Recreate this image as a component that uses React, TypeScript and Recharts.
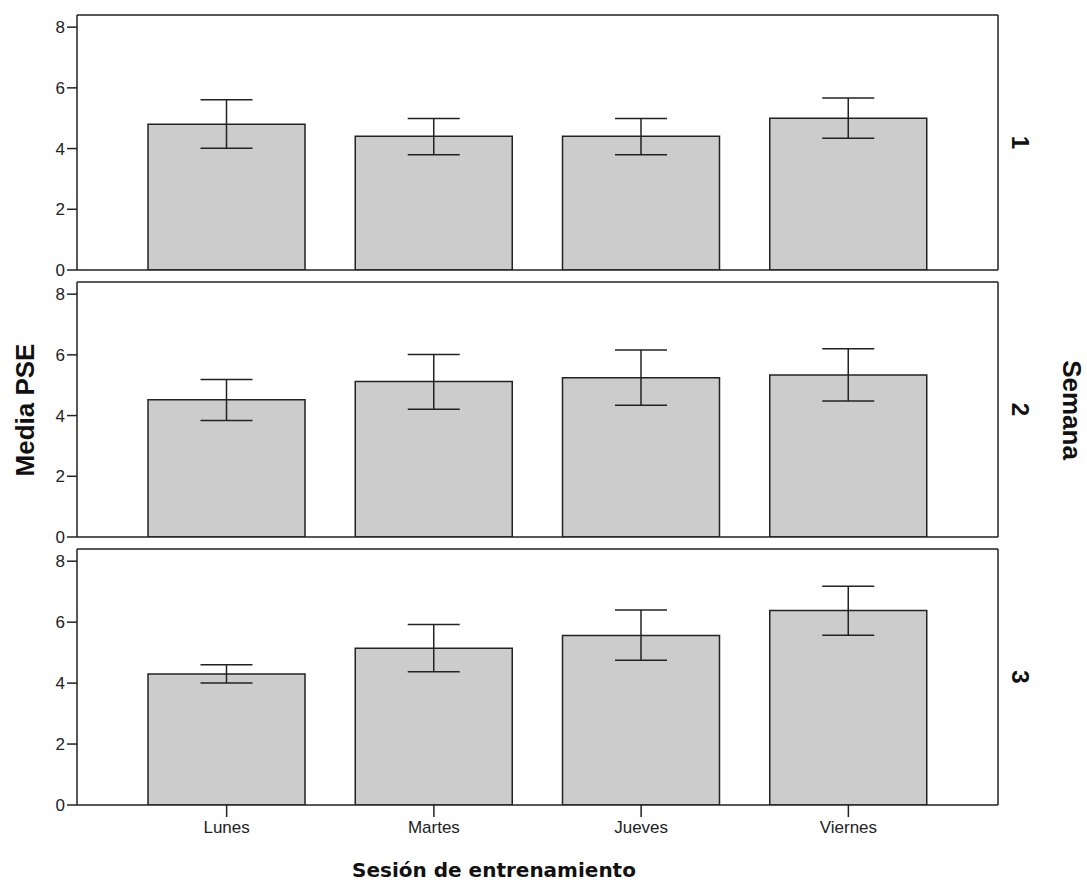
import { BarChart, Bar, XAxis, YAxis, ErrorBar, ReferenceLine } from 'recharts';

const days = ['Lunes', 'Martes', 'Jueves', 'Viernes'];
const semanas = ['1', '2', '3'];

// media PSE e intervalo (límite inferior / superior) por semana
const mediaS1 = [4.8, 4.41, 4.41, 5.0];
const loS1 = [4.01, 3.8, 3.8, 4.34];
const hiS1 = [5.61, 4.99, 4.99, 5.67];

const mediaS2 = [4.52, 5.12, 5.25, 5.34];
const loS2 = [3.84, 4.21, 4.34, 4.48];
const hiS2 = [5.19, 6.01, 6.16, 6.2];

const mediaS3 = [4.3, 5.14, 5.56, 6.38];
const loS3 = [4.0, 4.37, 4.75, 5.57];
const hiS3 = [4.6, 5.92, 6.4, 7.18];

const yTicks = [0, 2, 4, 6, 8];
const yMax = 8.4;

const sans = '"Liberation Sans", Arial, sans-serif';
const lineColor = '#222';

function buildRows(media: number[], lo: number[], hi: number[]) {
  return days.map((day, i) => ({
    day,
    mean: media[i],
    err: [media[i] - lo[i], hi[i] - media[i]],
  }));
}

const panels = [
  { top: 15, plotHeight: 255, rows: buildRows(mediaS1, loS1, hiS1) },
  { top: 282, plotHeight: 255, rows: buildRows(mediaS2, loS2, hiS2) },
  { top: 549, plotHeight: 256, rows: buildRows(mediaS3, loS3, hiS3) },
];

type PanelProps = {
  top: number;
  plotHeight: number;
  rows: { day: string; mean: number; err: number[] }[];
  showX: boolean;
};

function Panel({ top, plotHeight, rows, showX }: PanelProps) {
  const mTop = 10;
  const xH = showX ? 50 : 1;
  const mBottom = showX ? 0 : 10;
  const axisLine = { stroke: lineColor, strokeWidth: 1.5 };
  return (
    <div style={{ position: 'absolute', left: 0, top: top - mTop }}>
      <BarChart
        width={1087}
        height={mTop + plotHeight + xH + mBottom}
        data={rows}
        margin={{ top: mTop, right: 45, bottom: mBottom, left: 0 }}
      >
        <XAxis
          dataKey="day"
          height={xH}
          interval={0}
          padding={{ left: 46, right: 46 }}
          axisLine={axisLine}
          tickSize={12}
          tickMargin={4}
          tickLine={showX ? axisLine : false}
          tick={showX ? { fontSize: 17, fill: lineColor, fontFamily: sans } : false}
        />
        <YAxis
          width={77}
          domain={[0, yMax]}
          ticks={yTicks}
          allowDataOverflow
          tickSize={10}
          axisLine={axisLine}
          tickLine={axisLine}
          tick={{ fontSize: 17, fill: lineColor, fontFamily: sans }}
        />
        <YAxis
          yAxisId="right"
          orientation="right"
          width={44}
          domain={[0, yMax]}
          tick={false}
          tickLine={false}
          axisLine={axisLine}
        />
        <ReferenceLine y={yMax} stroke={lineColor} strokeWidth={1.5} />
        <Bar
          dataKey="mean"
          barSize={157}
          fill="#cccccc"
          stroke={lineColor}
          strokeWidth={1.5}
          isAnimationActive={false}
        >
          <ErrorBar
            dataKey="err"
            width={26}
            stroke={lineColor}
            strokeWidth={1.5}
            isAnimationActive={false}
          />
        </Bar>
      </BarChart>
    </div>
  );
}

export default function App() {
  return (
    <div
      style={{
        position: 'absolute',
        left: 0,
        top: 0,
        width: 1087,
        height: 882,
        background: '#fff',
      }}
    >
      {panels.map((p, i) => (
        <Panel
          key={semanas[i]}
          top={p.top}
          plotHeight={p.plotHeight}
          rows={p.rows}
          showX={i === panels.length - 1}
        />
      ))}
      <svg
        width={1087}
        height={882}
        style={{ position: 'absolute', left: 0, top: 0, pointerEvents: 'none' }}
      >
        <text
          x={25}
          y={410}
          transform="rotate(-90 25 410)"
          textAnchor="middle"
          dominantBaseline="central"
          fontFamily={sans}
          fontWeight="bold"
          fontSize={26}
          fill="#111"
        >
          Media PSE
        </text>
        <text
          x={1072}
          y={410}
          transform="rotate(90 1072 410)"
          textAnchor="middle"
          dominantBaseline="central"
          fontFamily={sans}
          fontWeight="bold"
          fontSize={26}
          fill="#111"
        >
          Semana
        </text>
        {panels.map((p, i) => {
          const cy = p.top + p.plotHeight / 2;
          return (
            <text
              key={semanas[i]}
              x={1020}
              y={cy}
              transform={`rotate(90 1020 ${cy})`}
              textAnchor="middle"
              dominantBaseline="central"
              fontFamily={sans}
              fontWeight="bold"
              fontSize={24}
              fill="#111"
            >
              {semanas[i]}
            </text>
          );
        })}
        <text
          x={494}
          y={870}
          textAnchor="middle"
          dominantBaseline="central"
          fontFamily='"DejaVu Sans", sans-serif'
          fontWeight="bold"
          fontSize={20}
          fill="#111"
        >
          Sesión de entrenamiento
        </text>
      </svg>
    </div>
  );
}
